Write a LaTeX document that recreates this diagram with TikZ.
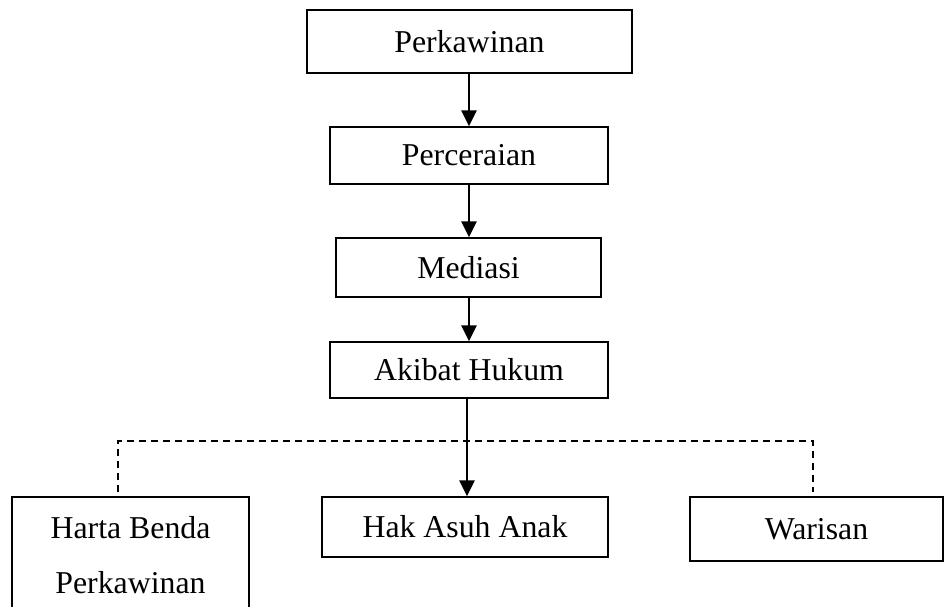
\documentclass[tikz,border=0pt]{standalone}
\usepackage{fontspec}
\setmainfont{Liberation Serif}
\usetikzlibrary{arrows.meta}
\tikzset{
  box/.style={draw=black, line width=1.4pt, rectangle, inner sep=0pt, align=center,
    font=\fontsize{31.8}{55}\selectfont},
  arr/.style={line width=2.5pt, -{Triangle[length=16pt,width=15pt]}},
  dash line/.style={line width=2.2pt, dash pattern=on 7pt off 5pt}
}
\begin{document}
\begin{tikzpicture}[x=1pt,y=-1pt]
\useasboundingbox (0,0) rectangle (944,606);
\begin{scope}
\clip (0,0) rectangle (944,606);
\node[box, minimum width=325pt, minimum height=63pt] (perk) at (469.5,41.5) {Perkawinan};
\node[box, minimum width=278pt, minimum height=57pt] (cerai) at (469,155.5) {Perceraian};
\node[box, minimum width=265pt, minimum height=59pt] (med) at (468.5,267.5) {Mediasi};
\node[box, minimum width=278pt, minimum height=56pt] (akibat) at (469,370) {Akibat Hukum};
\node[box, minimum width=286pt, minimum height=60pt] (hak) at (465,527) {Hak Asuh Anak};
\node[box, minimum width=253pt, minimum height=64pt] (waris) at (816.5,529) {Warisan};
\node[box, minimum width=237pt, minimum height=116pt] (harta) at (130.5,555) {Harta Benda\\Perkawinan};
\coordinate (jl) at (118,441);
\coordinate (jr) at (813,441);
\draw[dash line] (118,492) -- (jl) -- (jr) -- (813,492);
\draw[arr] (perk.south -| 469,0) -- (cerai.north -| 469,0);
\draw[arr] (cerai.south -| 469,0) -- (med.north -| 469,0);
\draw[arr] (med.south -| 469,0) -- (akibat.north -| 469,0);
\draw[arr] (akibat.south -| 467,0) -- (hak.north -| 467,0);
\end{scope}
\end{tikzpicture}
\end{document}
